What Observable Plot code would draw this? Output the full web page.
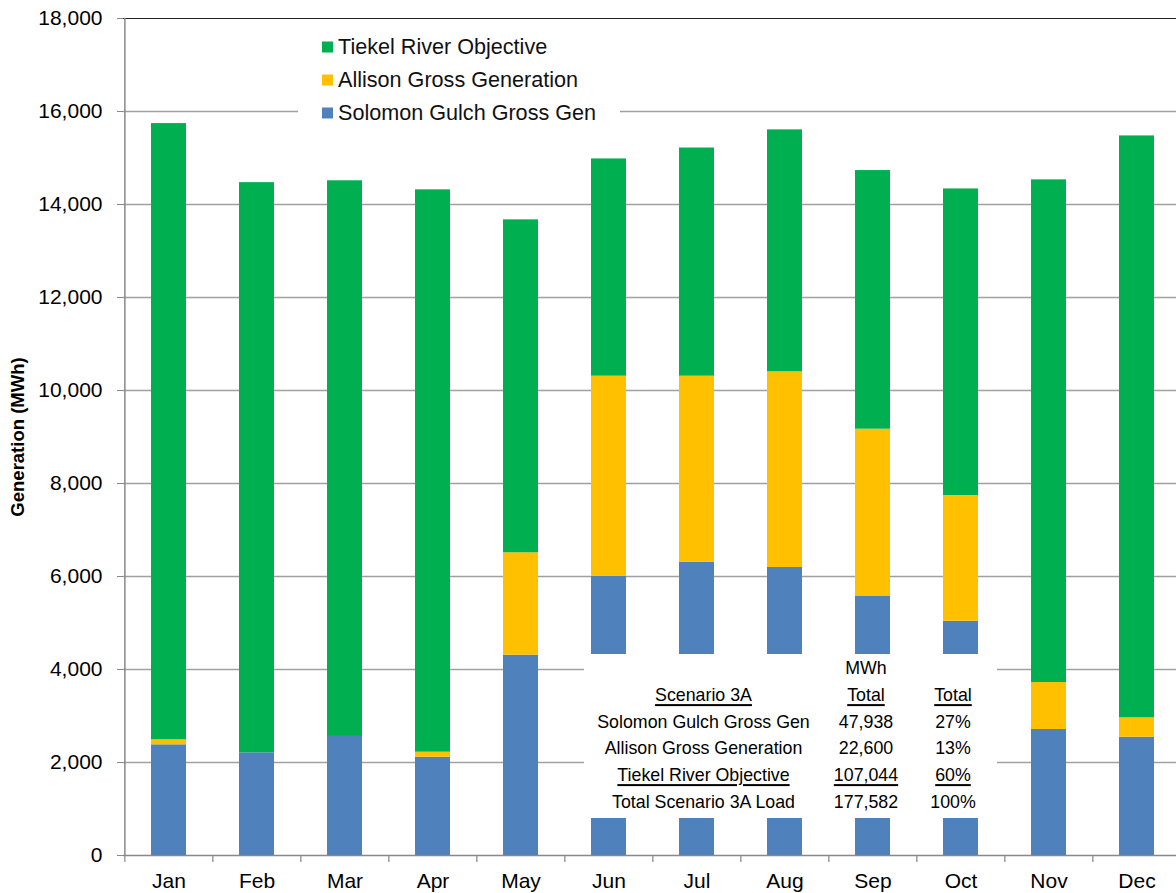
<!DOCTYPE html>
<html>
<head>
<meta charset="utf-8">
<script src="https://cdn.jsdelivr.net/npm/d3@7"></script>
<script src="https://cdn.jsdelivr.net/npm/@observablehq/plot@0.6"></script>
<style>
  html, body { margin: 0; padding: 0; background: #fff; overflow: hidden; }
  #wrap { position: relative; width: 1176px; height: 893px; overflow: hidden; font-family: "Liberation Sans", Arial, sans-serif; }
  #wrap svg { position: absolute; left: 0; top: 0; max-width: none !important; }
  .box { position: absolute; background: #fff; }
  .cell { position: absolute; transform: translate(-50%, -50%); white-space: nowrap; line-height: 1; color: #000; }
  .u { text-decoration: underline; text-decoration-thickness: 1.5px; text-underline-offset: 3px; }
  .lg { position: absolute; white-space: nowrap; line-height: 1; color: #111; transform: translateY(-50%); }
  .sw { position: absolute; width: 11px; height: 11px; transform: translateY(-50%); }
</style>
</head>
<body>
<div id="wrap"></div>
<script>
const months = ["Jan","Feb","Mar","Apr","May","Jun","Jul","Aug","Sep","Oct","Nov","Dec"];
const solomon = [2380, 2208, 2560, 2114, 4308, 6006, 6308, 6194, 5570, 5039, 2710, 2544];
const allison = [108, 0, 0, 108, 2202, 4302, 4000, 4208, 3598, 2703, 1010, 417];
const tiekel  = [13252, 12262, 11950, 12093, 7160, 4672, 4907, 5203, 5562, 6593, 10810, 12514];
const seriesNames = ["Solomon Gulch Gross Gen", "Allison Gross Generation", "Tiekel River Objective"];
const seriesColors = ["#4f81bd", "#ffc000", "#00b050"];
const yTicks = [0, 2000, 4000, 6000, 8000, 10000, 12000, 14000, 16000, 18000];
const legendOrder = ["Tiekel River Objective", "Allison Gross Generation", "Solomon Gulch Gross Gen"];
const tableRows = [
  ["", "MWh", ""],
  ["Scenario 3A", "Total", "Total"],
  ["Solomon Gulch Gross Gen", "47,938", "27%"],
  ["Allison Gross Generation", "22,600", "13%"],
  ["Tiekel River Objective", "107,044", "60%"],
  ["Total Scenario 3A Load", "177,582", "100%"]
];
const underlinedRows = [1, 4];

const values = [solomon, allison, tiekel];
const data = [];
months.forEach((m, i) => {
  seriesNames.forEach((s, k) => data.push({month: m, series: s, value: values[k][i]}));
});

const W = 1182, ML = 123, MR = 0, MT = 18, MB = 38, H = 893;
const pIn = 0.6, pOut = 0.3;
const step = (W - ML - MR) / (months.length - pIn + 2 * pOut);

const chart = Plot.plot({
  width: W, height: H,
  marginLeft: ML, marginRight: MR, marginTop: MT, marginBottom: MB,
  style: {fontFamily: "'Liberation Sans', Arial, sans-serif", fontSize: "21px", color: "#000", background: "transparent", overflow: "visible", maxWidth: "none"},
  x: {domain: months, paddingInner: pIn, paddingOuter: pOut, label: null},
  y: {domain: [0, 18000], label: null},
  color: {domain: seriesNames, range: seriesColors},
  marks: [
    Plot.gridY(yTicks.filter(v => v > 0 && v < 18000), {stroke: "#a0a0a0", strokeOpacity: 1, strokeWidth: 1.3}),
    Plot.ruleY([18000], {stroke: "#222", strokeWidth: 1.2}),
    Plot.barY(data, {x: "month", y: "value", fill: "series"}),
    Plot.ruleY([0], {stroke: "#888", strokeWidth: 1.5}),
    Plot.ruleX([months[0]], {x: d => d, dx: -step / 2, y1: 0, y2: 18000, stroke: "#888", strokeWidth: 1.5}),
    Plot.ruleX(months, {x: d => d, dx: -step / 2, y1: 0, y2: 0, insetBottom: -7, stroke: "#888", strokeWidth: 1.2}),
    Plot.ruleX([months[months.length - 1]], {x: d => d, dx: step / 2, y1: 0, y2: 0, insetBottom: -7, stroke: "#888", strokeWidth: 1.2}),
    Plot.axisY({ticks: yTicks, tickFormat: d3.format(","), tickSize: 6, tickPadding: 15, stroke: "#888", fill: "#000", label: null}),
    Plot.axisX({tickSize: 0, tickPadding: 18, fill: "#000", label: null}),
    Plot.text(["Generation (MWh)"], {frameAnchor: "left", textAnchor: "middle", rotate: -90, dx: -105, fontWeight: "bold", fontSize: 18.5, fill: "#000"})
  ]
});

const wrap = document.getElementById("wrap");
wrap.appendChild(chart);

// Legend box
const lg = document.createElement("div");
lg.className = "box";
Object.assign(lg.style, {left: "298px", top: "28px", width: "322px", height: "100px"});
legendOrder.forEach((name, i) => {
  const cy = 18.5 + i * 33;
  const sw = document.createElement("div");
  sw.className = "sw";
  Object.assign(sw.style, {left: "24px", top: cy + "px", background: seriesColors[seriesNames.indexOf(name)]});
  lg.appendChild(sw);
  const t = document.createElement("div");
  t.className = "lg";
  t.textContent = name;
  Object.assign(t.style, {left: "40px", top: cy + "px", fontSize: "21.6px"});
  lg.appendChild(t);
});
wrap.appendChild(lg);

// Summary table box
const tb = document.createElement("div");
tb.className = "box";
Object.assign(tb.style, {left: "584px", top: "654px", width: "413px", height: "164px"});
const colX = [119.5, 282, 369];
tableRows.forEach((row, r) => {
  const cy = 15 + r * 26.8;
  row.forEach((txt, c) => {
    if (!txt) return;
    const s = document.createElement("div");
    s.className = "cell";
    const inner = document.createElement("span");
    inner.textContent = txt;
    if (underlinedRows.includes(r)) inner.className = "u";
    s.appendChild(inner);
    Object.assign(s.style, {left: colX[c] + "px", top: cy + "px", fontSize: "17.8px"});
    tb.appendChild(s);
  });
});
wrap.appendChild(tb);
</script>
</body>
</html>
